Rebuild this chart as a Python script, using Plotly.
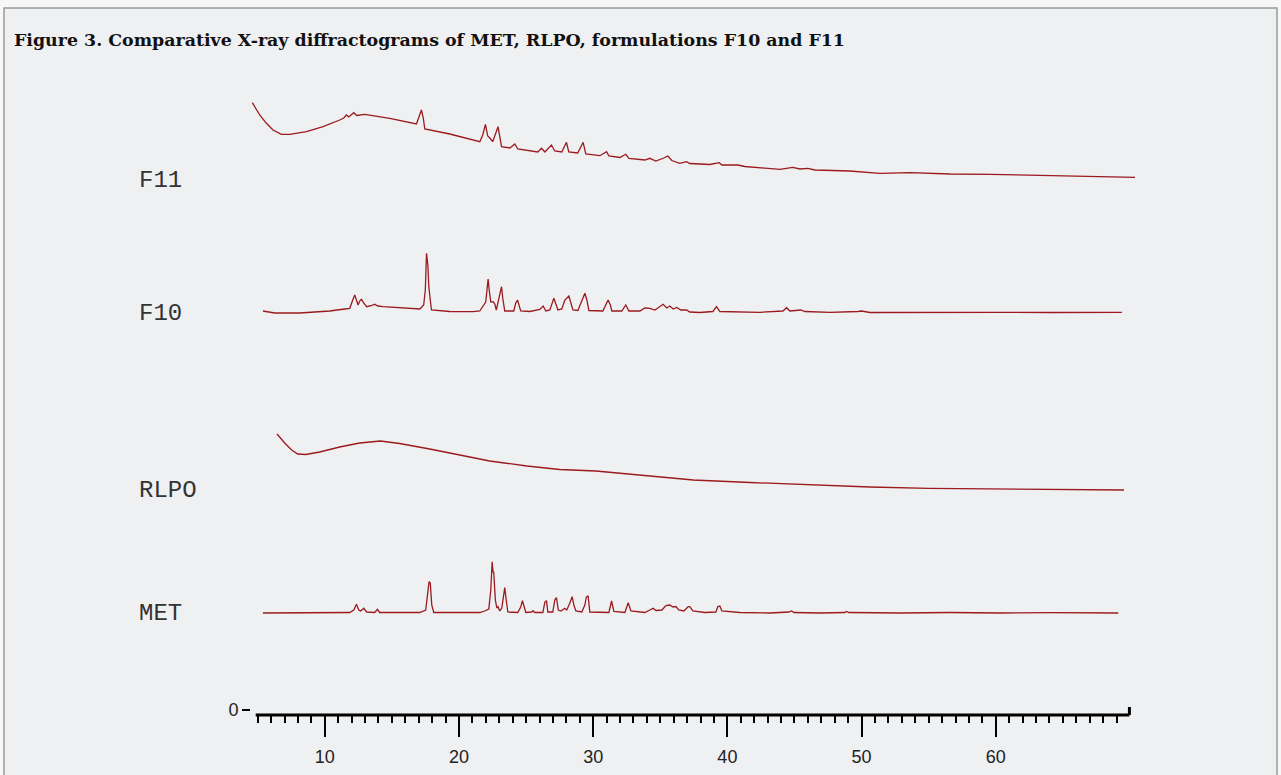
import plotly.graph_objects as go

# ---------------- data (2-theta in degrees, intensity in arbitrary units) ----------------
F11_X = [4.60, 5.15, 5.65, 6.14, 6.77, 7.38, 8.63, 9.87, 11.11, 11.41, 11.61, 11.78, 12.16, 12.38,
         12.98, 14.84, 16.83, 17.00, 17.20, 17.34, 17.45, 19.31, 21.55, 21.77, 21.97, 22.14, 22.30,
         22.51, 22.75, 22.91, 23.17, 23.79, 24.16, 24.38, 25.87, 26.15, 26.40, 26.89, 27.14, 27.66,
         28.01, 28.18, 28.85, 29.25, 29.45, 30.50, 31.00, 31.17, 31.99, 32.43, 32.66, 33.85, 34.22,
         34.67, 35.26, 35.56, 35.86, 36.45, 36.96, 37.20, 38.69, 39.39, 39.59, 40.78, 41.30, 43.91,
         44.88, 45.40, 46.00, 46.51, 49.12, 51.37, 53.60, 56.59, 59.57, 61.28, 64.04, 66.28, 68.52,
         70.38]
F11_Y = [77.3, 65.0, 56.7, 50.0, 45.7, 45.7, 48.3, 53.3, 60.0, 62.0, 65.0, 63.0, 67.3, 64.5,
         65.7, 61.7, 56.0, 62.0, 70.0, 62.0, 51.0, 46.0, 38.3, 45.0, 55.7, 44.0, 42.0,
         38.3, 48.0, 53.3, 33.3, 32.0, 36.0, 31.0, 28.0, 31.7, 28.0, 35.0, 29.0, 28.0,
         37.7, 28.0, 27.0, 37.7, 26.0, 24.3, 28.3, 24.0, 22.5, 25.7, 21.5, 20.0, 21.7,
         19.0, 22.0, 24.0, 19.5, 16.7, 18.3, 16.5, 15.5, 17.3, 15.0, 15.0, 13.5, 10.7,
         12.7, 11.0, 11.7, 10.0, 9.0, 6.7, 7.3, 6.0, 5.7, 5.3, 4.5, 4.0, 3.5,
         2.7]

F10_X = [5.39, 6.27, 8.13, 10.37, 11.48, 11.86, 12.08, 12.23, 12.38, 12.48, 12.60, 12.73, 12.90,
         13.12, 13.50, 13.72, 13.95, 14.34, 17.08, 17.37, 17.49, 17.58, 17.68, 17.75, 17.86, 17.95,
         19.31, 21.05, 21.55, 21.99, 22.07, 22.17, 22.26, 22.37, 22.54, 22.67, 22.78, 22.93, 23.04,
         23.17, 23.26, 23.41, 24.08, 24.23, 24.36, 24.49, 24.60, 25.28, 26.02, 26.27, 26.47, 26.77,
         26.92, 27.07, 27.22, 27.37, 27.66, 27.89, 28.19, 28.34, 28.49, 28.86, 29.15, 29.38, 29.53,
         29.68, 30.72, 30.94, 31.11, 31.28, 31.39, 32.13, 32.43, 32.66, 33.48, 33.85, 34.22, 34.60,
         34.89, 35.21, 35.49, 35.71, 35.96, 36.23, 36.53, 36.96, 37.20, 37.95, 38.92, 39.19, 39.44,
         40.93, 42.42, 44.14, 44.41, 44.66, 45.48, 45.78, 47.64, 49.73, 50.00, 50.62, 52.86, 55.10,
         56.59, 58.82, 60.31, 64.04, 67.02, 69.39]
F10_Y = [2.0, 0.0, 0.0, 2.0, 4.0, 4.7, 13.0, 18.0, 12.0, 8.0, 12.0, 13.7, 10.0,
         6.3, 7.5, 8.7, 7.0, 6.3, 4.0, 8.0, 23.0, 59.7, 48.0, 26.3, 13.0, 3.0,
         1.5, 1.3, 2.0, 11.0, 21.0, 34.0, 22.0, 11.0, 11.3, 9.0, 3.0, 13.0, 19.0,
         26.3, 15.0, 2.0, 2.0, 10.0, 13.0, 8.0, 2.0, 1.5, 3.5, 7.0, 2.0, 3.0,
         10.0, 14.7, 9.0, 3.0, 4.0, 13.0, 17.0, 11.0, 3.0, 2.5, 13.0, 19.7, 13.0,
         2.5, 2.0, 9.0, 13.0, 8.0, 2.0, 2.0, 8.0, 2.0, 2.0, 5.0, 4.7, 3.0,
         6.0, 8.7, 5.0, 7.0, 4.0, 5.5, 3.0, 3.0, 1.0, 0.5, 1.5, 6.3, 1.5,
         1.0, 0.7, 2.0, 5.3, 2.0, 3.0, 1.5, 0.7, 1.5, 2.0, 0.5, 0.7, 0.5,
         1.0, 0.5, 0.7, 0.5, 0.7, 0.7]

RLPO_X = [6.44, 7.01, 7.53, 7.98, 8.58, 9.62, 11.11, 12.60, 14.14, 15.58, 17.82, 20.06, 22.29,
          25.05, 27.51, 30.20, 33.48, 37.46, 41.68, 46.45, 50.62, 55.02, 60.31, 64.79, 69.56]
RLPO_Y = [56.0, 47.0, 40.0, 36.0, 35.5, 38.0, 43.0, 47.0, 49.0, 46.5, 41.0, 35.0, 29.0,
          24.0, 20.5, 19.0, 15.0, 10.0, 7.5, 5.0, 3.0, 1.7, 1.0, 0.5, 0.0]

MET_X = [5.39, 8.13, 11.86, 12.16, 12.36, 12.53, 12.68, 12.90, 13.12, 13.72, 13.92, 14.09, 17.08,
         17.52, 17.67, 17.77, 17.86, 17.97, 18.12, 21.55, 21.92, 22.22, 22.37, 22.47, 22.54, 22.59,
         22.71, 22.82, 22.91, 23.04, 23.19, 23.30, 23.41, 23.52, 23.64, 24.38, 24.60, 24.73, 24.86,
         24.98, 25.42, 25.52, 25.65, 26.25, 26.40, 26.52, 26.62, 26.99, 27.14, 27.26, 27.40, 27.59,
         27.89, 28.03, 28.26, 28.43, 28.56, 28.71, 29.15, 29.38, 29.49, 29.62, 29.75, 31.17, 31.37,
         31.54, 32.36, 32.61, 32.81, 33.85, 34.22, 34.47, 34.67, 35.12, 35.42, 35.71, 35.94, 36.16,
         36.38, 36.76, 37.08, 37.20, 37.43, 38.32, 39.14, 39.29, 39.44, 39.59, 40.93, 43.17, 44.58,
         44.78, 44.96, 46.90, 48.76, 48.88, 49.06, 52.86, 56.59, 60.31, 64.04, 69.13]
MET_Y = [0.0, 0.0, 0.5, 3.0, 8.7, 3.0, 2.0, 4.7, 1.0, 0.5, 3.7, 0.5, 0.5,
         3.0, 23.0, 31.3, 30.0, 8.0, 0.5, 0.5, 2.0, 4.0, 23.0, 51.3, 41.0, 40.7,
         13.0, 5.0, 6.3, 2.0, 5.0, 18.0, 25.3, 13.0, 1.0, 0.5, 6.0, 12.3, 7.0,
         0.5, 1.0, 2.3, 0.5, 0.5, 11.0, 12.3, 1.0, 1.0, 13.0, 15.3, 3.0, 2.0,
         4.7, 3.0, 10.0, 16.3, 8.0, 2.0, 1.0, 8.0, 16.0, 17.3, 1.0, 0.5, 12.0,
         1.5, 0.5, 10.3, 2.0, 0.5, 3.0, 4.7, 2.5, 3.0, 7.5, 8.0, 6.0, 6.5,
         3.0, 2.0, 6.3, 6.3, 2.0, 0.5, 1.0, 6.5, 7.0, 2.0, 0.5, 0.0, 1.0,
         2.0, 0.5, 0.0, 0.5, 1.5, 0.5, 0.0, 0.5, 0.0, 0.3, 0.0]

SAMPLES = ["F11", "F10", "RLPO", "MET"]
X_TICKS = [10, 20, 30, 40, 50, 60]
MINOR_TICKS = list(range(5, 70))
Y_TICKS = [0]

# ---------------- layout / style ----------------
OFFSETS = {"F11": 530, "F10": 397, "RLPO": 220, "MET": 97}
SERIES = {"F11": (F11_X, F11_Y), "F10": (F10_X, F10_Y), "RLPO": (RLPO_X, RLPO_Y), "MET": (MET_X, MET_Y)}
LINE_COLOR = "#9a1a1e"
PANEL = "#eff0f2"

W, H = 1281, 775
L, R, T, B = 251, 143, 90, 60
XR = [4.5, 70.6]
YR = [-5, 620]

fig = go.Figure()
for name in SAMPLES:
    xs, ys = SERIES[name]
    fig.add_trace(go.Scatter(
        x=xs, y=[v + OFFSETS[name] for v in ys], mode="lines", name=name,
        line=dict(color=LINE_COLOR, width=1.3), showlegend=False, hoverinfo="skip"))


def px_to_paper_x(px):
    return (px - L) / (W - L - R)


def py_to_paper_y(py):
    return (H - B - py) / (H - T - B)


for name in SAMPLES:
    fig.add_annotation(x=px_to_paper_x(137), xref="paper", y=OFFSETS[name], yref="y",
                       text=name, showarrow=False, xanchor="left", yanchor="middle",
                       font=dict(family="Liberation Mono, Courier New, monospace", size=24, color="#333333"))

shapes = [
    dict(type="rect", xref="paper", yref="paper", layer="below",
         x0=px_to_paper_x(4), x1=px_to_paper_x(1277), y0=py_to_paper_y(790), y1=py_to_paper_y(8),
         fillcolor=PANEL, line=dict(color="#9b9b9b", width=1.5)),
    dict(type="line", xref="x", yref="paper", x0=4.85, x1=69.96, y0=0, y1=0,
         line=dict(color="black", width=3)),
    dict(type="line", xref="x", yref="paper", x0=69.96, x1=69.96, y0=0, y1=py_to_paper_y(707),
         line=dict(color="black", width=3)),
]
fig.update_layout(shapes=shapes)

fig.update_layout(
    width=W, height=H,
    margin=dict(l=L, r=R, t=T, b=B, pad=0, autoexpand=False),
    paper_bgcolor="#f7f7f7",
    plot_bgcolor="rgba(0,0,0,0)",
    title=dict(text="<b>Figure 3. Comparative X-ray diffractograms of MET, RLPO, formulations F10 and F11</b>",
               x=14 / W, xref="container", xanchor="left", y=1 - 40 / H, yref="container", yanchor="middle",
               font=dict(family="DejaVu Serif, serif", size=17.4, color="#111111")),
    xaxis=dict(range=XR, showgrid=False, zeroline=False, showline=False, automargin=False,
               tickmode="array", tickvals=X_TICKS, ticktext=[str(v) for v in X_TICKS],
               ticks="outside", ticklen=21, tickwidth=2, tickcolor="black", ticklabelstandoff=4,
               minor=dict(tickmode="array", tickvals=MINOR_TICKS, ticks="outside", ticklen=7,
                          tickwidth=1.5, tickcolor="black", showgrid=False),
               tickfont=dict(family="Liberation Sans, Arial, sans-serif", size=18, color="#222222")),
    yaxis=dict(range=YR, showgrid=False, zeroline=False, showline=False, automargin=False,
               tickmode="array", tickvals=Y_TICKS, ticktext=["0"],
               ticks="outside", ticklen=8, tickwidth=1.5, tickcolor="black",
               tickfont=dict(family="Liberation Sans, Arial, sans-serif", size=18, color="#222222")),
)

fig.write_html("out.html")
